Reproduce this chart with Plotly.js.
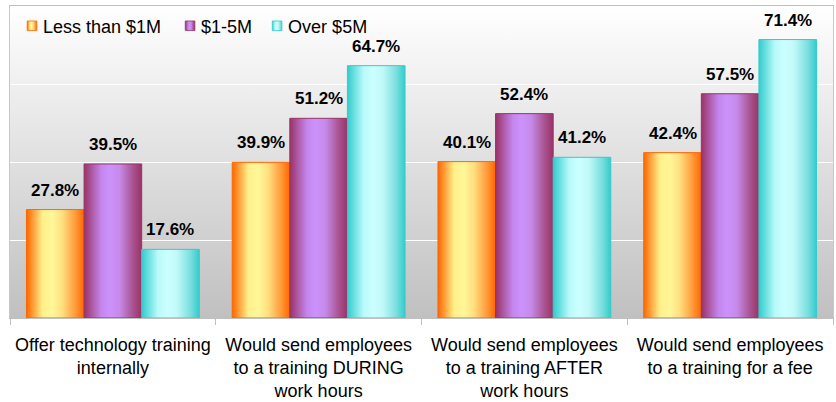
<!DOCTYPE html>
<html>
<head>
<meta charset="utf-8">
<script src="https://cdn.plot.ly/plotly-3.0.1.min.js"></script>
<style>
  html, body { margin: 0; padding: 0; background: #ffffff; }
  #chart { width: 836px; height: 402px; }
</style>
</head>
<body>
<div id="chart"></div>
<script>
// ---- data ----
var categories = [
  "Offer technology training<br>internally",
  "Would send employees<br>to a training DURING<br>work hours",
  "Would send employees<br>to a training AFTER<br>work hours",
  "Would send employees<br>to a training for a fee"
];
var seriesNames = ["Less than $1M", "$1-5M", "Over $5M"];
var lessThan1M = [27.8, 39.9, 40.1, 42.4];
var from1to5M  = [39.5, 51.2, 52.4, 57.5];
var over5M     = [17.6, 64.7, 41.2, 71.4];
var seriesValues = [lessThan1M, from1to5M, over5M];

// ---- styles ----
var edgeColors = ["#ff6600", "#993366", "#33cccc"];
var midColors  = ["#ffcc66", "#c080e0", "#99eeee"];
var gradStops = [
  [[0, "#ff6600"], [0.28, "#fff08a"], [0.45, "#fff799"], [0.62, "#ffe080"], [0.85, "#ff9a3a"], [1, "#ff6600"]],
  [[0, "#993366"], [0.3, "#c486ee"], [0.45, "#cc92fc"], [0.62, "#c58ae8"], [0.85, "#a95290"], [1, "#993366"]],
  [[0, "#33cccc"], [0.28, "#b8fafa"], [0.45, "#ccffff"], [0.62, "#c0f8f8"], [0.85, "#7adede"], [1, "#33cccc"]]
];
var legendShift = [2, -3, -12];

var BAR_GAP = 0.16;
var barW = (1 - BAR_GAP) / 3;
var FONT = "Liberation Sans, Arial, sans-serif";

var traces = seriesNames.map(function (name, s) {
  return {
    type: "bar",
    name: name,
    x: categories.map(function (c, i) { return i; }),
    y: seriesValues[s],
    marker: { color: midColors[s], line: { color: edgeColors[s], width: 1 } },
    hoverinfo: "none"
  };
});

var annotations = [];
seriesValues.forEach(function (vals, s) {
  vals.forEach(function (v, i) {
    annotations.push({
      x: i + (s - 1) * barW, y: v, xref: "x", yref: "y",
      text: "<b>" + v.toFixed(1) + "%</b>",
      showarrow: false, xanchor: "center", yanchor: "bottom", yshift: 8,
      font: { family: FONT, size: 17, color: "#000000" }
    });
  });
});

var bgSvg = '<svg xmlns="http://www.w3.org/2000/svg" width="10" height="100" preserveAspectRatio="none">' +
  '<defs><linearGradient id="b" x1="0" y1="0" x2="0" y2="1">' +
  '<stop offset="0" stop-color="#ffffff"/><stop offset="1" stop-color="#c0c0c0"/>' +
  '</linearGradient></defs><rect width="10" height="100" fill="url(#b)"/></svg>';

var layout = {
  width: 836, height: 402,
  margin: { l: 10, r: 3, t: 6, b: 84 },
  paper_bgcolor: "#ffffff",
  plot_bgcolor: "#e0e0e0",
  barmode: "group",
  bargap: BAR_GAP,
  bargroupgap: 0,
  showlegend: true,
  legend: {
    orientation: "h", x: 0.0, y: 0.995, xanchor: "left", yanchor: "top",
    bgcolor: "rgba(0,0,0,0)",
    font: { family: FONT, size: 18, color: "#000000" },
    traceorder: "normal"
  },
  xaxis: {
    type: "category",
    tickvals: [0, 1, 2, 3],
    ticktext: categories,
    range: [-0.5, 3.5],
    showgrid: false,
    showline: true, linecolor: "#bfbfbf", linewidth: 1, mirror: true,
    ticks: "outside", tickson: "boundaries", ticklen: 6, tickcolor: "#bfbfbf",
    ticklabelstandoff: 10,
    tickfont: { family: FONT, size: 18, color: "#000000" },
    fixedrange: true
  },
  yaxis: {
    range: [0, 80],
    dtick: 20,
    showticklabels: false,
    showgrid: true, gridcolor: "#ffffff", gridwidth: 1,
    zeroline: false,
    showline: true, linecolor: "#c8c8c8", mirror: true,
    ticks: "",
    fixedrange: true
  },
  images: [{
    source: "data:image/svg+xml;base64," + btoa(bgSvg),
    xref: "paper", yref: "paper", x: 0, y: 1, sizex: 1, sizey: 1,
    xanchor: "left", yanchor: "top", sizing: "stretch", layer: "below"
  }],
  annotations: annotations
};

Plotly.newPlot("chart", traces, layout, { staticPlot: true, displayModeBar: false }).then(function (gd) {
  var NS = "http://www.w3.org/2000/svg";
  var svg = gd.querySelector("svg.main-svg");
  var defs = svg.querySelector("defs");
  if (!defs) { defs = document.createElementNS(NS, "defs"); svg.insertBefore(defs, svg.firstChild); }
  gradStops.forEach(function (stops, s) {
    var g = document.createElementNS(NS, "linearGradient");
    g.setAttribute("id", "barGrad" + s);
    g.setAttribute("x1", "0"); g.setAttribute("y1", "0");
    g.setAttribute("x2", "1"); g.setAttribute("y2", "0");
    stops.forEach(function (st) {
      var el = document.createElementNS(NS, "stop");
      el.setAttribute("offset", st[0]);
      el.setAttribute("stop-color", st[1]);
      g.appendChild(el);
    });
    defs.appendChild(g);
  });
  gd.querySelectorAll(".barlayer .trace").forEach(function (tr, s) {
    tr.querySelectorAll("path").forEach(function (p) { p.style.fill = "url(#barGrad" + s + ")"; });
  });
  gd.querySelectorAll(".legend .traces").forEach(function (it, s) {
    it.querySelectorAll(".legendpoints path").forEach(function (p) {
      p.style.fill = "url(#barGrad" + s + ")";
      var tf = p.getAttribute("transform") || "";
      p.setAttribute("transform", tf + " scale(0.8)");
    });
    it.querySelectorAll("text.legendtext").forEach(function (t) { t.setAttribute("x", "31"); });
    var itf = it.getAttribute("transform") || "";
    var m = /translate\(\s*([-\d.]+)[ ,]+([-\d.]+)\s*\)/.exec(itf);
    if (m) {
      it.setAttribute("transform", "translate(" + (parseFloat(m[1]) + legendShift[s]) + "," + m[2] + ")");
    }
  });
});
</script>
</body>
</html>
